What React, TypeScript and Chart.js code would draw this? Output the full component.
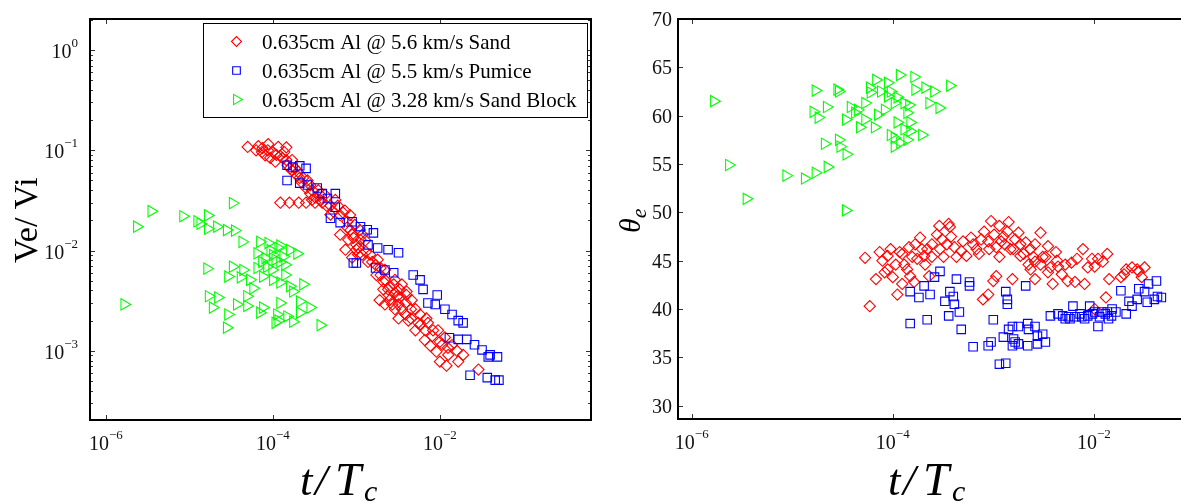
import React, { useEffect, useRef } from "react";
import { Chart, registerables } from "chart.js";
import { drawPoint } from "chart.js/helpers";
Chart.register(...registerables);

const SERIF = '"Liberation Serif", "Times New Roman", serif';

// ---------- data: left panel (t/Tc, Ve/Vi) ----------
const sandVe: [number, number][] = [
  [5.0e-5, 0.108], [6.3e-5, 0.1], [7.4e-5, 0.096], [8.7e-5, 0.1], [1.0e-4, 0.096], [1.1e-4, 0.09], [1.45e-4, 0.107], [1.3e-4, 0.084],
  [1.5e-4, 0.071], [1.7e-4, 0.063], [1.95e-4, 0.056], [2.2e-4, 0.048], [2.5e-4, 0.042], [2.8e-4, 0.037], [3.2e-4, 0.034],
  [1.23e-4, 0.03], [1.58e-4, 0.03], [2.04e-4, 0.03], [2.5e-4, 0.03], [3.2e-4, 0.03], [3.9e-4, 0.03],
  [3.7e-4, 0.032], [4.4e-4, 0.028], [5.3e-4, 0.0245], [6.9e-4, 0.024], [7.8e-4, 0.0194], [8.5e-4, 0.016], [9.2e-4, 0.0134],
  [1.0e-3, 0.0114], [7.4e-4, 0.0102], [1.05e-3, 0.0091], [8.9e-4, 0.0085], [1.1e-3, 0.016], [6.4e-4, 0.0144],
  [1.3e-3, 0.0097], [1.55e-3, 0.0077], [1.95e-3, 0.0067], [2.2e-3, 0.0051], [2.5e-3, 0.0043], [2.9e-3, 0.0038], [3.3e-3, 0.0034],
  [3.9e-3, 0.003], [2.7e-3, 0.0029], [1.9e-3, 0.0032], [4.5e-3, 0.0026], [3.2e-3, 0.0021], [4.2e-3, 0.002], [2.4e-3, 0.0041], [3.5e-3, 0.0046],
  [5.5e-3, 0.0019], [6.7e-3, 0.0016], [8.1e-3, 0.0014], [1.0e-2, 0.00123], [1.25e-2, 0.00107], [7.7e-3, 0.00112], [1.0e-2, 7.8e-4],
  [1.2e-2, 7.1e-4], [1.6e-2, 1.0e-3], [1.9e-2, 9.1e-4], [2.9e-2, 6.5e-4],
  [8.1e-5, 0.089], [9.3e-5, 0.084], [1.16e-4, 0.108], [1.37e-4, 0.096], [1.07e-4, 0.077], [1.7e-4, 0.08],
  [1.85e-4, 0.066], [2.1e-4, 0.053], [2.8e-4, 0.045], [3.5e-4, 0.04], [4.2e-4, 0.036], [2.95e-4, 0.032],
  [6.0e-4, 0.028], [7.3e-4, 0.025], [4.9e-4, 0.0228],
  [8.4e-4, 0.0226], [9.6e-4, 0.018], [1.18e-3, 0.0144], [8.0e-4, 0.0128], [1.05e-3, 0.0106], [1.28e-3, 0.0126],
  [1.46e-3, 0.0091], [1.8e-3, 0.0081], [2.2e-3, 0.0064], [1.74e-3, 0.0057],
  [2.1e-3, 0.0041], [2.9e-3, 0.0051], [3.3e-3, 0.0041], [3.98e-3, 0.0036], [2.9e-3, 0.0026], [3.9e-3, 0.0023], [4.6e-3, 0.0032],
  [2.2e-3, 0.0029], [2.5e-3, 0.0032], [3.2e-3, 0.0029],
  [5.1e-3, 0.0016], [5.8e-3, 0.0023], [7.2e-3, 0.0019], [9.5e-3, 0.0016], [1.15e-2, 0.00136], [6.6e-3, 0.00128], [1.4e-2, 0.00114],
  [6.7e-5, 0.11], [7.5e-5, 0.105], [8.8e-5, 0.115], [1.22e-4, 0.088], [1.45e-4, 0.08], [1.6e-4, 0.066], [2.0e-4, 0.061],
  [2.3e-4, 0.053], [2.6e-4, 0.05], [2.95e-4, 0.04], [3.7e-4, 0.036], [4.9e-4, 0.028], [5.6e-4, 0.032], [6.4e-4, 0.0225],
  [7.8e-4, 0.017], [8.9e-4, 0.0144], [1.0e-3, 0.0102], [1.12e-3, 0.0128], [1.17e-3, 0.0091], [1.38e-3, 0.0077], [1.7e-3, 0.0072],
  [1.95e-3, 0.0057], [2.1e-3, 0.0049], [2.45e-3, 0.0036], [2.8e-3, 0.0046], [3.1e-3, 0.0035], [3.55e-3, 0.0026], [4.0e-3, 0.0039],
  [4.5e-3, 0.0021], [5.1e-3, 0.0026], [5.8e-3, 0.0018], [6.9e-3, 0.0021], [8.3e-3, 0.0016], [1.07e-2, 0.00115], [1.26e-2, 9.1e-4],
  [9.1e-3, 9.8e-4], [1.66e-2, 7.8e-4],
];

const pumiceVe: [number, number][] = [
  [1.48e-4, 0.071], [1.74e-4, 0.068], [2.1e-4, 0.07], [2.5e-4, 0.066], [1.48e-4, 0.05], [2.1e-4, 0.047], [2.6e-4, 0.045],
  [3.4e-4, 0.042], [3.9e-4, 0.037], [4.5e-4, 0.033], [5.6e-4, 0.037], [5.6e-4, 0.027], [4.9e-4, 0.021], [6.4e-4, 0.019],
  [8.9e-4, 0.0194], [1.12e-3, 0.0173], [1.35e-3, 0.0161], [1.6e-3, 0.015], [1.38e-3, 0.0114], [1.8e-3, 0.0106], [2.4e-3, 0.0102],
  [3.2e-3, 0.0095], [9.2e-4, 0.0075], [1.0e-3, 0.0075], [1.7e-3, 0.0067], [2.2e-3, 0.0064], [2.8e-3, 0.006], [4.8e-3, 0.0057],
  [5.8e-3, 0.0051], [6.3e-3, 0.0041], [9.3e-3, 0.0036], [7.2e-3, 0.003], [8.8e-3, 0.0029], [1.15e-2, 0.0026], [1.4e-2, 0.0023],
  [1.66e-2, 0.002], [1.9e-2, 0.0019], [1.3e-2, 0.00135], [1.66e-2, 0.0013], [2.1e-2, 0.0013], [2.6e-2, 0.00115], [3.2e-2, 0.00102],
  [4.0e-2, 9.1e-4], [4.9e-2, 8.7e-4], [3.8e-2, 8.7e-4], [2.3e-2, 5.7e-4], [3.7e-2, 5.4e-4], [4.6e-2, 5.1e-4], [5.1e-2, 5.1e-4],
];

const blockVe: [number, number][] = [
  [1.66e-6, 2.9e-3], [2.35e-6, 0.0173], [3.5e-6, 0.0247], [8.4e-6, 0.022], [1.24e-5, 0.0196], [1.66e-5, 0.0224], [1.35e-5, 0.0185],
  [1.66e-5, 0.0165], [2.14e-5, 0.0173], [2.8e-5, 0.016], [3.5e-5, 0.0158], [3.3e-5, 0.0297], [4.3e-5, 0.0122], [1.63e-5, 0.0066],
  [7.0e-5, 0.0122], [8.8e-5, 0.0119], [1.16e-4, 0.0106], [6.5e-5, 0.0094], [1.0e-4, 0.009], [1.33e-4, 0.0087], [1.95e-4, 0.0093],
  [1.22e-4, 0.0077], [8.5e-5, 0.0069], [6.5e-5, 0.0067], [3.3e-5, 0.0069], [4.4e-5, 0.0064], [2.9e-5, 0.0055], [4.1e-5, 0.0054],
  [5.3e-5, 0.0051], [7.6e-5, 0.0055], [1.0e-4, 0.0051], [1.22e-4, 0.0048], [1.6e-4, 0.0044], [2.3e-4, 0.0046], [1.74e-4, 0.0039],
  [5.8e-5, 0.0042], [4.9e-5, 0.0035], [1.7e-5, 0.0035], [2.2e-5, 0.0034], [1.9e-5, 0.0027], [3.7e-5, 0.0029], [4.9e-5, 0.0028],
  [7.6e-5, 0.0027], [1.22e-4, 0.003], [2.1e-4, 0.0031], [2.8e-4, 0.0027], [2.9e-5, 0.0023], [1.12e-4, 0.0023], [1.48e-4, 0.0022],
  [2.1e-4, 0.0024], [2.8e-5, 0.0017], [1.07e-4, 0.0019], [1.74e-4, 0.00195], [3.7e-4, 0.0018], [7.0e-5, 0.0024], [1.16e-4, 0.002],
  [9.3e-5, 0.0101], [1.07e-4, 0.0081], [1.4e-4, 0.0072], [8.1e-5, 0.0084], [1.6e-4, 0.0101], [1.22e-4, 0.0112], [9.8e-5, 0.0064],
  [7.4e-5, 0.0077], [1.4e-4, 0.0057],
];

// ---------- data: right panel (t/Tc, theta_e in degrees) ----------
const sandTheta: [number, number][] = [
  [5.3e-5, 45.3], [5.9e-5, 40.3], [7.4e-5, 45.9], [8.3e-5, 43.8], [8.9e-5, 45.5], [1.0e-4, 43.3], [1.11e-4, 41.5], [1.17e-4, 45.9],
  [1.3e-4, 44.6], [1.45e-4, 46.4], [1.49e-4, 43.4], [1.63e-4, 42.8], [1.87e-4, 47.4], [2.05e-4, 45.5], [2.3e-4, 43.4], [2.45e-4, 46.7],
  [2.75e-4, 47.7], [2.95e-4, 46.2], [3.2e-4, 45.4], [3.7e-4, 48.5], [3.8e-4, 47.5], [4.3e-4, 45.4], [5.0e-4, 47.0], [5.4e-4, 45.5],
  [6.3e-4, 46.7], [7.2e-4, 45.7], [7.9e-4, 41.0], [8.9e-4, 41.5], [9.5e-4, 49.1], [1.0e-3, 42.9], [1.07e-3, 43.4], [1.15e-3, 48.6],
  [9.1e-4, 46.2], [1.15e-3, 45.4], [1.26e-3, 47.5], [1.42e-3, 49.0], [1.48e-3, 46.2], [1.55e-3, 43.1], [1.78e-3, 47.9], [1.86e-3, 45.5],
  [2.1e-3, 46.9], [2.24e-3, 44.6], [2.6e-3, 43.1], [2.95e-3, 47.9], [3.1e-3, 45.4], [3.5e-3, 46.5], [3.5e-3, 43.8], [3.9e-3, 42.6],
  [4.2e-3, 45.9], [4.4e-3, 44.4], [5.5e-3, 42.9], [6.0e-3, 44.8], [6.8e-3, 45.2], [7.8e-3, 46.2], [8.1e-3, 42.6], [8.7e-3, 44.3],
  [1.02e-2, 44.4], [1.1e-2, 45.2], [1.23e-2, 44.9], [1.36e-2, 45.7], [1.42e-2, 43.1], [1.32e-2, 41.2], [1.86e-2, 43.3], [2.1e-2, 44.1],
  [2.7e-2, 44.1], [3.0e-2, 43.3], [1.02e-2, 40.0], [9.6e-3, 45.2], [5.2e-3, 44.6], [4.8e-3, 43.6], [6.5e-3, 42.8], [2.9e-4, 48.6],
  [3.6e-4, 48.8], [1.75e-4, 45.2], [2.2e-4, 46.2], [3.45e-4, 46.7], [7.6e-4, 47.2], [1.3e-3, 46.7], [1.65e-3, 47.2], [2.35e-3, 46.2],
  [2.6e-3, 44.9], [8.9e-5, 44.1], [6.8e-5, 43.1], [1.24e-4, 42.6],
  [7.9e-5, 45.0], [9.5e-5, 46.2], [1.07e-4, 44.6], [1.24e-4, 45.7], [1.39e-4, 44.1], [1.56e-4, 45.4], [1.67e-4, 46.7], [1.95e-4, 46.2],
  [2.1e-4, 44.6], [2.45e-4, 45.4], [3.1e-4, 47.2], [4.1e-4, 46.4], [4.8e-4, 46.0], [6.0e-4, 47.4], [6.8e-4, 46.2], [8.1e-4, 48.0],
  [8.9e-4, 47.0], [1.02e-3, 47.7], [1.07e-3, 46.4], [1.2e-3, 47.0], [1.38e-3, 48.0], [1.58e-3, 46.2], [1.86e-3, 46.7], [2.0e-3, 45.7],
  [2.5e-3, 45.4], [2.95e-3, 44.6], [3.3e-3, 45.4], [3.7e-3, 44.3], [4.3e-3, 45.0], [2.6e-3, 46.7], [2.35e-3, 44.1],
  [2.4e-2, 44.3], [2.8e-2, 43.9], [2.0e-2, 43.6], [3.2e-2, 44.3],
];

const pumiceTheta: [number, number][] = [
  [1.49e-4, 41.8], [1.49e-4, 38.5], [1.82e-4, 41.2], [2.05e-4, 42.4], [2.2e-4, 38.9], [2.35e-4, 41.5], [2.6e-4, 43.3], [2.95e-4, 43.9],
  [3.3e-4, 40.8], [3.6e-4, 39.3], [3.7e-4, 41.8], [4.0e-4, 41.3], [4.1e-4, 40.5], [4.3e-4, 43.1], [4.6e-4, 39.7], [4.8e-4, 37.9],
  [5.8e-4, 42.8], [5.8e-4, 42.4], [6.3e-4, 36.1], [8.9e-4, 36.2], [9.5e-4, 36.6], [1.0e-3, 38.9], [1.15e-3, 34.3], [1.33e-3, 34.4],
  [1.33e-3, 41.8], [1.38e-3, 41.0], [1.38e-3, 40.5], [1.26e-3, 37.1], [1.42e-3, 37.9], [1.55e-3, 38.2], [1.59e-3, 36.9], [1.78e-3, 38.2],
  [1.78e-3, 36.4], [2.1e-3, 42.4], [2.2e-3, 38.5], [2.24e-3, 37.9], [2.6e-3, 38.2], [2.75e-3, 37.2], [3.1e-3, 37.4], [3.3e-3, 36.6],
  [2.75e-3, 36.4], [2.2e-3, 36.2], [1.55e-3, 36.2], [1.65e-3, 36.6], [3.7e-3, 39.3], [4.4e-3, 39.5], [4.9e-3, 39.3], [5.8e-3, 39.0],
  [6.5e-3, 39.2], [6.2e-3, 40.3], [7.6e-3, 39.2], [8.7e-3, 39.3], [9.1e-3, 40.3], [1.02e-2, 39.7], [1.1e-2, 38.2], [1.2e-2, 39.7],
  [1.36e-2, 39.7], [1.52e-2, 40.0], [1.66e-2, 39.7], [1.86e-2, 41.9], [2.1e-2, 39.5], [2.24e-2, 40.8], [2.4e-2, 40.3], [2.7e-2, 41.0],
  [2.8e-2, 42.1], [3.2e-2, 41.8], [3.5e-2, 42.6], [4.0e-2, 41.0], [4.2e-2, 42.9], [4.3e-2, 41.3], [4.7e-2, 41.2], [3.4e-2, 40.7],
  [5.6e-3, 39.2], [1.5e-2, 39.3], [1.14e-2, 39.2], [1.3e-2, 39.5], [1.4e-2, 39.0],
  [5.2e-3, 39.0], [7.3e-3, 39.5], [8.1e-3, 39.0], [9.7e-3, 39.5],
];

const blockTheta: [number, number][] = [
  [1.66e-6, 61.5], [2.34e-6, 54.9], [3.5e-6, 51.4], [8.7e-6, 53.8], [1.33e-5, 53.5], [1.7e-5, 54.1], [1.7e-5, 62.6], [1.62e-5, 60.4],
  [1.82e-5, 59.8], [2.2e-5, 60.9], [2.1e-5, 57.1], [2.24e-5, 54.7], [2.8e-5, 62.7], [2.9e-5, 62.5], [2.9e-5, 57.5], [3.0e-5, 56.8],
  [3.45e-5, 56.0], [3.4e-5, 50.2], [3.8e-5, 60.9], [3.4e-5, 59.6], [4.7e-5, 58.8], [4.2e-5, 60.3], [5.3e-5, 61.3], [5.9e-5, 62.9],
  [6.8e-5, 63.7], [8.9e-5, 63.4], [1.17e-4, 64.2], [1.63e-4, 64.0], [1.67e-4, 62.7], [2.1e-4, 62.9], [2.57e-4, 62.5], [3.7e-4, 63.1],
  [2.3e-4, 61.3], [2.9e-4, 60.8], [1.95e-4, 58.0], [1.39e-4, 57.5], [1.04e-4, 56.8], [9.5e-5, 58.0], [6.6e-5, 58.8], [7.1e-5, 60.1],
  [8.3e-5, 60.6], [1.04e-4, 61.3], [1.3e-4, 61.3], [1.39e-4, 60.3], [1.11e-4, 59.3], [1.3e-4, 58.6], [1.49e-4, 59.3], [8.9e-5, 62.0],
  [6.0e-5, 62.4], [7.6e-5, 62.5], [9.5e-5, 62.5], [1.11e-4, 61.9], [1.45e-4, 61.1], [1.49e-4, 58.4], [1.18e-4, 57.2], [1.04e-4, 57.7],
  [5.3e-5, 59.6], [4.5e-5, 60.6],
];

// ---------- labels / ticks ----------
const seriesNames = ["0.635cm Al @ 5.6 km/s Sand", "0.635cm Al @ 5.5 km/s Pumice", "0.635cm Al @ 3.28 km/s Sand Block"];
const seriesColors = ["#ff0000", "#0000ff", "#00ff00"];
const xTickValues = [1e-6, 1e-4, 1e-2];
const xTickExps = ["\u22126", "\u22124", "\u22122"];
const leftYTickValues = [1, 1e-1, 1e-2, 1e-3];
const leftYTickExps = ["0", "\u22121", "\u22122", "\u22123"];
const rightYTickValues = [30, 35, 40, 45, 50, 55, 60, 65, 70];

const LEFT_X_RANGE = [6.46e-7, 0.646];
const LEFT_Y_RANGE = [2.04e-4, 2.04];
const RIGHT_X_RANGE = [7.3e-7, 0.0957];
const RIGHT_Y_RANGE = [28.63, 70];

const markers = [
  { pointStyle: "rectRot", radius: 5.6, rotation: 0 },
  { pointStyle: "rect", radius: 6, rotation: 0 },
  { pointStyle: "triangle", radius: 6.5, rotation: 90 },
];

function makeDataset(data: [number, number][], i: number) {
  const m = markers[i];
  return {
    label: seriesNames[i],
    data: data.map(([x, y]) => ({ x, y })),
    pointStyle: m.pointStyle,
    pointRadius: m.radius,
    pointHoverRadius: m.radius,
    pointRotation: m.rotation,
    borderColor: seriesColors[i],
    pointBorderColor: seriesColors[i],
    backgroundColor: "rgba(0,0,0,0)",
    pointBackgroundColor: "rgba(0,0,0,0)",
    pointBorderWidth: 1.1,
    order: 3 - i,
  };
}

function drawPow(ctx: CanvasRenderingContext2D, x: number, y: number, exp: string, align: "center" | "right") {
  ctx.textAlign = "left";
  ctx.textBaseline = "alphabetic";
  ctx.font = `20px ${SERIF}`;
  const w1 = ctx.measureText("10").width;
  ctx.font = `13px ${SERIF}`;
  const w2 = ctx.measureText(exp).width;
  const total = w1 + w2;
  const sx = align === "center" ? x - total / 2 : x - total;
  ctx.font = `20px ${SERIF}`;
  ctx.fillText("10", sx, y);
  ctx.font = `13px ${SERIF}`;
  ctx.fillText(exp, sx + w1, y - 11);
}

function drawXTitle(ctx: CanvasRenderingContext2D, x0: number) {
  ctx.fillStyle = "#000";
  ctx.textAlign = "left";
  ctx.textBaseline = "alphabetic";
  ctx.font = `italic 45px ${SERIF}`;
  ctx.fillText("t", x0, 495);
  ctx.fillText("/", x0 + 15, 495);
  ctx.font = `italic 47px ${SERIF}`;
  ctx.fillText("T", x0 + 35, 495);
  ctx.font = `italic 30px ${SERIF}`;
  ctx.fillText("c", x0 + 64, 501);
}

function frameAndXTicks(chart: any) {
  const ctx = chart.ctx as CanvasRenderingContext2D;
  const { top, bottom } = chart.chartArea;
  const xs = chart.scales.x;
  ctx.strokeStyle = "#333";
  ctx.lineWidth = 1;
  ctx.beginPath();
  for (const v of xTickValues) {
    const px = Math.round(xs.getPixelForValue(v)) + 0.5;
    ctx.moveTo(px, bottom);
    ctx.lineTo(px, bottom - 5);
    ctx.moveTo(px, top);
    ctx.lineTo(px, top + 5);
  }
  ctx.stroke();
  ctx.fillStyle = "#111";
  xTickValues.forEach((v, i) => {
    drawPow(ctx, xs.getPixelForValue(v), bottom + 30, xTickExps[i], "center");
  });
}

const leftPlugin = {
  id: "leftDecor",
  afterDatasetsDraw(chart: any) {
    const ctx = chart.ctx as CanvasRenderingContext2D;
    const { left, right, top, bottom } = chart.chartArea;
    const ys = chart.scales.y;
    ctx.save();
    frameAndXTicks(chart);
    ctx.strokeStyle = "#333";
    ctx.lineWidth = 1;
    ctx.beginPath();
    for (let k = -4; k <= 0; k++) {
      for (let m = 1; m <= 9; m++) {
        const v = m * Math.pow(10, k);
        if (v < LEFT_Y_RANGE[0] || v > LEFT_Y_RANGE[1]) continue;
        const py = Math.round(ys.getPixelForValue(v)) + 0.5;
        const len = m === 1 ? 5 : 3;
        ctx.moveTo(left, py);
        ctx.lineTo(left + len, py);
        ctx.moveTo(right, py);
        ctx.lineTo(right - len, py);
      }
    }
    ctx.stroke();
    ctx.fillStyle = "#111";
    leftYTickValues.forEach((v, i) => {
      drawPow(ctx, left - 12, ys.getPixelForValue(v) + 8, leftYTickExps[i], "right");
    });
    ctx.strokeStyle = "#000";
    ctx.lineWidth = 2;
    ctx.strokeRect(left, top, right - left, bottom - top);
    // legend
    const bx = 203, by = 23, bw = 384, bh = 94;
    ctx.fillStyle = "#fff";
    ctx.fillRect(bx, by, bw, bh);
    ctx.strokeStyle = "#000";
    ctx.lineWidth = 1;
    ctx.strokeRect(bx + 0.5, by + 0.5, bw, bh);
    seriesNames.forEach((name, i) => {
      const my = 41.5 + 29 * i;
      const m = markers[i];
      ctx.strokeStyle = seriesColors[i];
      ctx.fillStyle = "rgba(0,0,0,0)";
      ctx.lineWidth = 1.1;
      drawPoint(ctx, { pointStyle: m.pointStyle as any, radius: m.radius - 0.6, rotation: m.rotation, borderWidth: 1.1 } as any, 236.5, my);
      ctx.fillStyle = "#000";
      ctx.font = `21px ${SERIF}`;
      ctx.textAlign = "left";
      ctx.textBaseline = "alphabetic";
      ctx.fillText(name, 262, my + 7);
    });
    drawXTitle(ctx, 300);
    ctx.save();
    ctx.translate(37, 263);
    ctx.rotate(-Math.PI / 2);
    ctx.fillStyle = "#000";
    ctx.font = `34px ${SERIF}`;
    ctx.textAlign = "left";
    ctx.textBaseline = "alphabetic";
    ctx.fillText("Ve/ Vi", 0, 0);
    ctx.restore();
    ctx.restore();
  },
};

const rightPlugin = {
  id: "rightDecor",
  afterDatasetsDraw(chart: any) {
    const ctx = chart.ctx as CanvasRenderingContext2D;
    const { left, right, top, bottom } = chart.chartArea;
    const ys = chart.scales.y;
    ctx.save();
    frameAndXTicks(chart);
    ctx.strokeStyle = "#333";
    ctx.lineWidth = 1;
    ctx.beginPath();
    for (const v of rightYTickValues) {
      const py = Math.round(ys.getPixelForValue(v)) + 0.5;
      ctx.moveTo(left, py);
      ctx.lineTo(left + 5, py);
      ctx.moveTo(right, py);
      ctx.lineTo(right - 5, py);
    }
    ctx.stroke();
    ctx.fillStyle = "#111";
    ctx.font = `20px ${SERIF}`;
    ctx.textAlign = "right";
    ctx.textBaseline = "alphabetic";
    for (const v of rightYTickValues) {
      ctx.fillText(String(v), left - 6, ys.getPixelForValue(v) + 7);
    }
    ctx.strokeStyle = "#000";
    ctx.lineWidth = 2;
    ctx.strokeRect(left, top, right - left, bottom - top);
    drawXTitle(ctx, 288);
    ctx.save();
    ctx.translate(40, 233);
    ctx.rotate(-Math.PI / 2);
    ctx.fillStyle = "#000";
    ctx.textAlign = "left";
    ctx.textBaseline = "alphabetic";
    ctx.font = `italic 30px ${SERIF}`;
    ctx.fillText("\u03b8", 0, 0);
    const w = ctx.measureText("\u03b8").width;
    ctx.font = `italic 22px ${SERIF}`;
    ctx.fillText("e", w, 6);
    ctx.restore();
    ctx.restore();
  },
};

function ChartCanvas(props: { left: number; width: number; build: (c: HTMLCanvasElement) => Chart }) {
  const ref = useRef<HTMLCanvasElement>(null);
  useEffect(() => {
    const chart = props.build(ref.current!);
    return () => chart.destroy();
  }, []);
  return (
    <canvas
      ref={ref}
      width={props.width}
      height={504}
      style={{ position: "absolute", left: props.left, top: 0, width: props.width, height: 504 }}
    />
  );
}

function baseOptions(padding: any, xr: number[], yr: number[], yType: string) {
  return {
    animation: false,
    responsive: false,
    maintainAspectRatio: false,
    events: [],
    layout: { padding },
    plugins: { legend: { display: false }, tooltip: { enabled: false } },
    scales: {
      x: { type: "logarithmic", min: xr[0], max: xr[1], display: false },
      y: { type: yType, min: yr[0], max: yr[1], display: false },
    },
  } as any;
}

export default function App() {
  const buildLeft = (c: HTMLCanvasElement) =>
    new Chart(c, {
      type: "scatter",
      data: { datasets: [makeDataset(sandVe, 0), makeDataset(pumiceVe, 1), makeDataset(blockVe, 2)] as any },
      options: baseOptions({ left: 90, top: 19, right: 9, bottom: 84 }, LEFT_X_RANGE, LEFT_Y_RANGE, "logarithmic"),
      plugins: [leftPlugin],
    });
  const buildRight = (c: HTMLCanvasElement) =>
    new Chart(c, {
      type: "scatter",
      data: { datasets: [makeDataset(sandTheta, 0), makeDataset(pumiceTheta, 1), makeDataset(blockTheta, 2)] as any },
      options: baseOptions({ left: 78, top: 19, right: 0, bottom: 85 }, RIGHT_X_RANGE, RIGHT_Y_RANGE, "linear"),
      plugins: [rightPlugin],
    });
  return (
    <div style={{ position: "fixed", left: 0, top: 0, width: 1181, height: 504, overflow: "hidden", background: "#fff" }}>
      <ChartCanvas left={0} width={600} build={buildLeft} />
      <ChartCanvas left={600} width={600} build={buildRight} />
    </div>
  );
}
